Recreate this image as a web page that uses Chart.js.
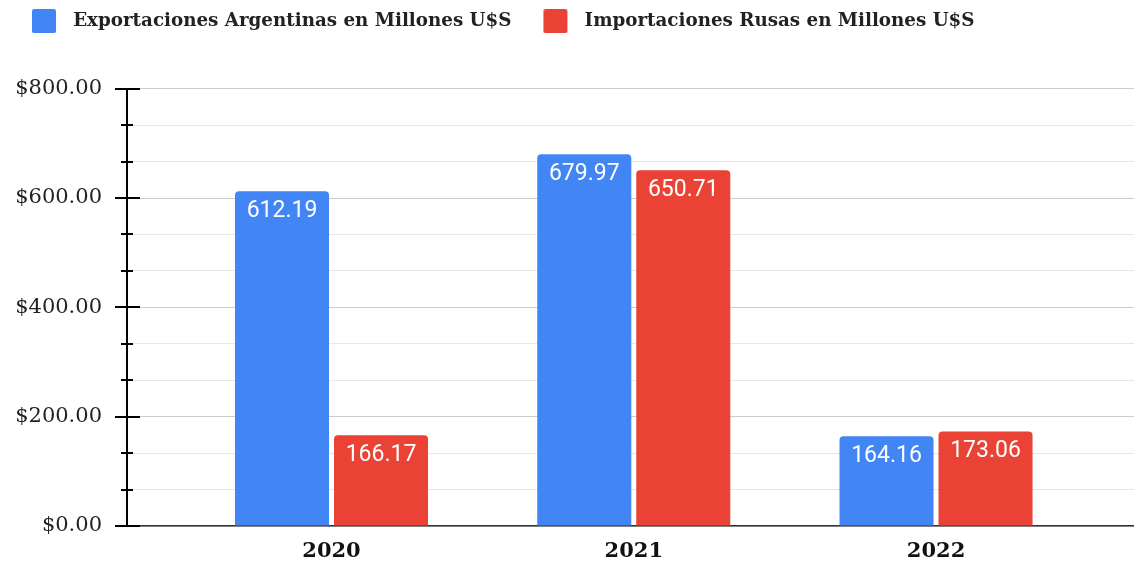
<!DOCTYPE html>
<html>
<head>
<meta charset="utf-8">
<script src="https://cdn.jsdelivr.net/npm/chart.js@4/dist/chart.umd.min.js"></script>
<style>
  html, body { margin: 0; padding: 0; background: #ffffff; }
  #wrap { position: relative; width: 1134px; height: 562px; }
</style>
</head>
<body>
<div id="wrap"><canvas id="c" width="1134" height="562"></canvas></div>
<script>
// ---- data ----
const categories = ['2020', '2021', '2022'];
const seriesNames = ['Exportaciones Argentinas en Millones U$S', 'Importaciones Rusas en Millones U$S'];
const exportsArg = [612.19, 679.97, 164.16];
const importsRus = [166.17, 650.71, 173.06];
const yMin = 0;
const yMax = 800;
const yGridDivisions = 12;
const seriesColors = ['#4285F4', '#EA4335'];

// legend icon: rounded square drawn on a small canvas (used as the legend point style)
function makeIcon(color) {
  const cv = document.createElement('canvas');
  cv.width = 54; cv.height = 24;
  const g = cv.getContext('2d');
  g.fillStyle = color;
  g.beginPath();
  if (g.roundRect) g.roundRect(22, 0, 24, 24, 2); else g.rect(22, 0, 24, 24);
  g.fill();
  return cv;
}
const icons = seriesColors.map(makeIcon);

// plugin: make the legend reserve the space above the plot
const legendSpace = {
  id: 'legendSpace',
  beforeUpdate(chart) {
    const lg = chart.legend;
    if (lg && !lg._spaceWrapped) {
      const orig = lg.fit.bind(lg);
      lg.fit = function () { orig(); this.height = 86.7; };
      lg._spaceWrapped = true;
    }
  }
};

// plugin: tick marks crossing the y axis
const axisTicks = {
  id: 'axisTicks',
  afterDraw(chart) {
    const ys = chart.scales.y;
    const ctx = chart.ctx;
    const ax = ys.right;
    ctx.save();
    ctx.strokeStyle = '#000000';
    ctx.lineWidth = 2;
    ys.ticks.forEach((t, i) => {
      const py = Math.round(ys.getPixelForValue(t.value));
      const major = i % 3 === 0;
      const l = major ? 12 : 6;
      const r = major ? 13 : 6;
      ctx.beginPath();
      ctx.moveTo(ax - l, py);
      ctx.lineTo(ax + r, py);
      ctx.stroke();
    });
    ctx.restore();
  }
};

// plugin: value labels inside the top of each bar
const barLabels = {
  id: 'barLabels',
  afterDatasetsDraw(chart) {
    const ctx = chart.ctx;
    ctx.save();
    ctx.font = '23px Roboto';
    ctx.fillStyle = '#ffffff';
    ctx.textAlign = 'center';
    ctx.textBaseline = 'middle';
    chart.data.datasets.forEach((ds, di) => {
      const meta = chart.getDatasetMeta(di);
      meta.data.forEach((bar, i) => {
        ctx.fillText(ds.data[i].toFixed(2), bar.x, bar.y + 20);
      });
    });
    ctx.restore();
  }
};

const chart = new Chart(document.getElementById('c'), {
  type: 'bar',
  data: {
    labels: categories,
    datasets: [
      { label: seriesNames[0], data: exportsArg, backgroundColor: seriesColors[0], borderRadius: 4, borderSkipped: 'bottom' },
      { label: seriesNames[1], data: importsRus, backgroundColor: seriesColors[1], borderRadius: 4, borderSkipped: 'bottom' }
    ]
  },
  options: {
    responsive: false,
    animation: false,
    devicePixelRatio: 1,
    layout: { padding: { top: 2, left: 0, right: 0, bottom: 0 } },
    datasets: { bar: { categoryPercentage: 0.655, barPercentage: 0.95 } },
    plugins: {
      tooltip: { enabled: false },
      legend: {
        position: 'top',
        align: 'start',
        labels: {
          usePointStyle: true,
          pointStyleWidth: 54,
          padding: 10,
          color: '#222222',
          font: { family: 'DejaVu Serif', size: 18.3, weight: 'bold' },
          generateLabels(chart) {
            const items = Chart.defaults.plugins.legend.labels.generateLabels(chart);
            return items.map((it, i) => Object.assign(it, { pointStyle: icons[i] }));
          }
        }
      }
    },
    scales: {
      x: {
        type: 'linear',
        offset: false,
        min: 2019.3234,
        max: 2022.655,
        afterFit(s) { s.height = 36; },
        afterBuildTicks(s) { s.ticks = categories.map(c => ({ value: +c })); },
        grid: { display: false, drawTicks: false },
        border: { display: true, color: '#333333', width: 1.5 },
        ticks: {
          padding: 13,
          color: '#111111',
          font: { family: 'DejaVu Serif', size: 21, weight: 'bold' },
          callback(v) { const c = categories.find(k => +k === v); return c === undefined ? '' : c; }
        }
      },
      y: {
        min: yMin,
        max: yMax,
        afterFit(s) { s.width = 127; s.paddingTop = 0; s.paddingBottom = 0; },
        afterBuildTicks(s) {
          const t = [];
          for (let i = 0; i <= yGridDivisions; i++) t.push({ value: yMin + (yMax - yMin) * i / yGridDivisions });
          s.ticks = t;
        },
        grid: {
          drawTicks: false,
          color(ctx) { return ctx.index % 3 === 0 ? '#cccccc' : '#e6e6e6'; },
          lineWidth: 1
        },
        border: { display: true, color: '#000000', width: 2 },
        ticks: {
          padding: 25,
          color: '#222222',
          font: { family: 'DejaVu Serif', size: 21 },
          callback(v, i) { return i % 3 === 0 ? '$' + v.toFixed(2) : ''; }
        }
      }
    }
  },
  plugins: [legendSpace, axisTicks, barLabels]
});
</script>
</body>
</html>
